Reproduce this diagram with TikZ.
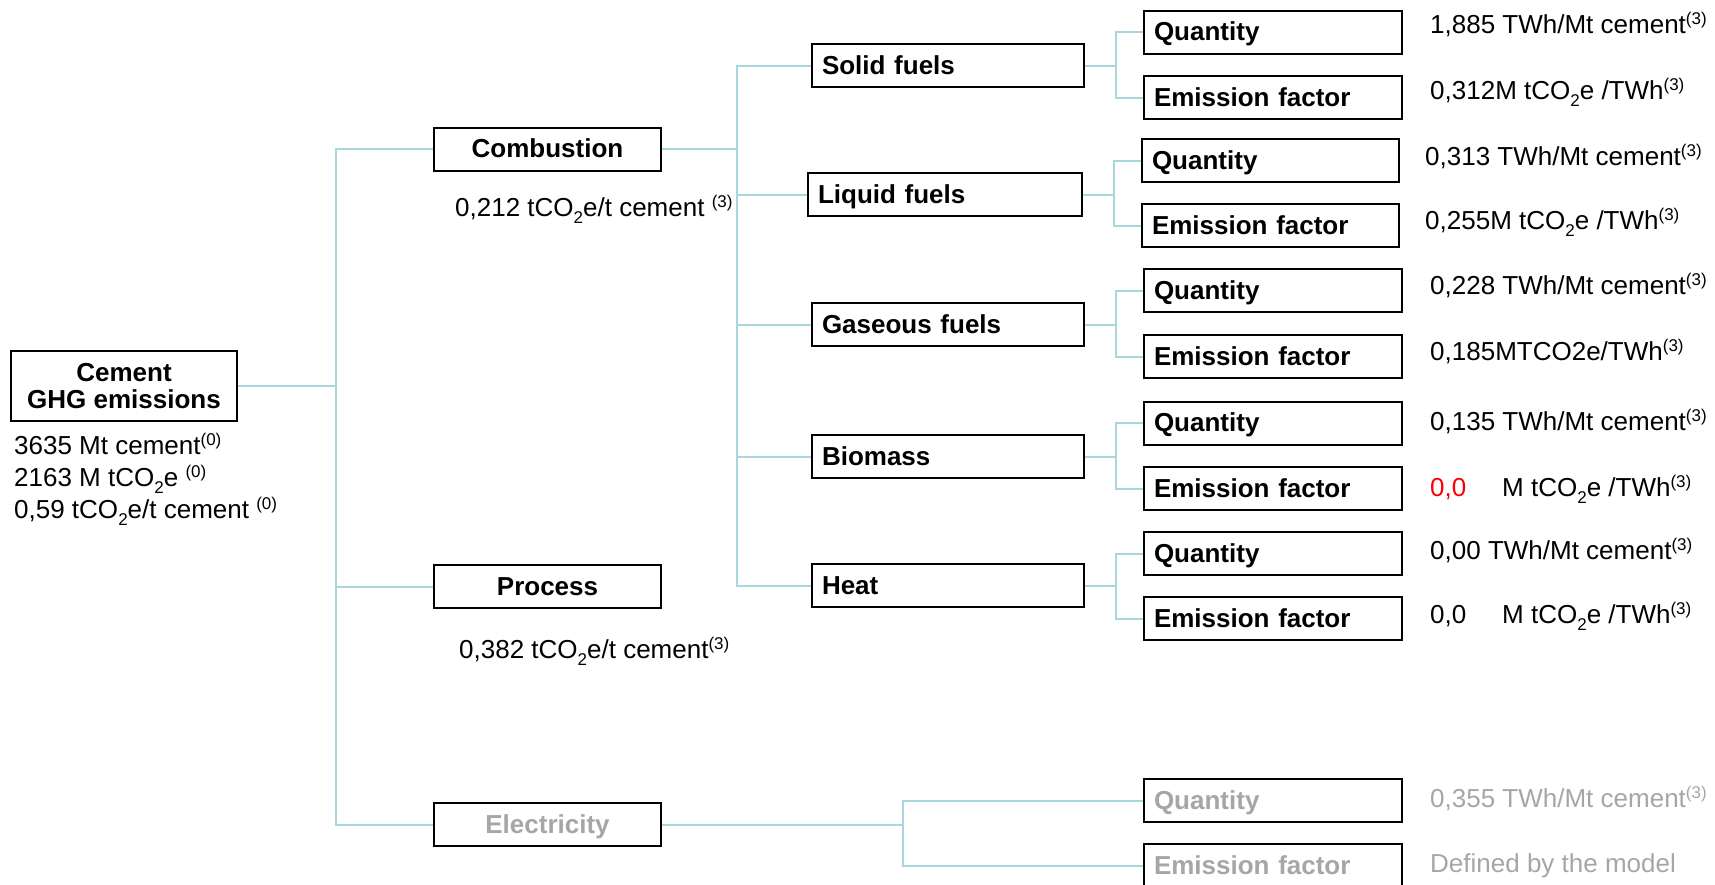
\documentclass[tikz,border=0pt]{standalone}
\usepackage{fontspec}
\setmainfont{Liberation Sans}
\definecolor{linec}{RGB}{168,214,220}
\definecolor{greyt}{RGB}{166,166,166}
\newcommand\mysup[1]{\raisebox{9pt}{\fontsize{17}{17}\selectfont #1}}
\newcommand\mysub[1]{\raisebox{-7pt}{\fontsize{17}{17}\selectfont #1}}
\begin{document}
\begin{tikzpicture}[x=1pt,y=-1pt,
  box/.style={draw=black,line width=2pt,font=\fontsize{26}{27}\selectfont\bfseries,inner sep=0pt,text height=17pt,text depth=0pt},
  cbox/.style={box,minimum width=227pt,minimum height=43pt},
  lbox/.style={box,inner xsep=10pt,text width=#1-20pt,align=left,minimum height=43pt},
  val/.style={anchor=base west,inner sep=0pt,font=\fontsize{26}{28}\selectfont},
  conn/.style={draw=linec,line width=2pt}]
\useasboundingbox (0,0) rectangle (1715,884);

% level 0
\node[draw=black,line width=2pt,font=\fontsize{26}{27}\selectfont\bfseries,align=center,
  minimum width=226pt,minimum height=70pt,inner sep=0pt] (cement) at (124,386) {Cement\\GHG emissions};
\node[val] (c1) at (14,454) {3635 Mt cement\mysup{(0)}};
\node[val] (c2) at (14,486) {2163 M tCO\mysub{2}e \mysup{(0)}};
\node[val] (c3) at (14,518) {0,59 tCO\mysub{2}e/t cement \mysup{(0)}};

% level 1
\node[cbox] (comb) at (547.5,149) {Combustion};
\node[cbox] (proc) at (547.5,586.5) {Process};
\node[cbox,text=greyt] (elec) at (547.5,824.5) {Electricity};
\node[val] (combv) at (455,216) {0,212 tCO\mysub{2}e/t cement \mysup{(3)}};
\node[val] (procv) at (459,658) {0,382 tCO\mysub{2}e/t cement\mysup{(3)}};

% level 2
\node[lbox=272pt] (solid) at (948,65.5) {Solid fuels};
\node[lbox=274pt] (liquid) at (945,194.5) {Liquid fuels};
\node[lbox=272pt] (gas) at (948,324.5) {Gaseous fuels};
\node[lbox=272pt] (bio) at (948,456.5) {Biomass};
\node[lbox=272pt] (heat) at (948,585.5) {Heat};

% level 3
\node[lbox=258pt] (qsolid) at (1273,32) {Quantity};
\node[lbox=258pt] (esolid) at (1273,97.5) {Emission factor};
\node[lbox=257pt] (qliquid) at (1270.5,160.5) {Quantity};
\node[lbox=257pt] (eliquid) at (1270.5,225.5) {Emission factor};
\node[lbox=258pt] (qgas) at (1273,290.5) {Quantity};
\node[lbox=258pt] (egas) at (1273,356.5) {Emission factor};
\node[lbox=258pt] (qbio) at (1273,423) {Quantity};
\node[lbox=258pt] (ebio) at (1273,488.5) {Emission factor};
\node[lbox=258pt] (qheat) at (1273,553.5) {Quantity};
\node[lbox=258pt] (eheat) at (1273,618.5) {Emission factor};
\node[lbox=258pt,text=greyt] (qelec) at (1273,800.5) {Quantity};
\node[lbox=258pt,text=greyt] (eelec) at (1273,865.5) {Emission factor};

% values
\node[val] (vqsolid) at (1430,33) {1,885 TWh/Mt cement\mysup{(3)}};
\node[val] (vesolid) at (1430,99) {0,312M tCO\mysub{2}e /TWh\mysup{(3)}};
\node[val] (vqliquid) at (1425,165) {0,313 TWh/Mt cement\mysup{(3)}};
\node[val] (veliquid) at (1425,229) {0,255M tCO\mysub{2}e /TWh\mysup{(3)}};
\node[val] (vqgas) at (1430,294) {0,228 TWh/Mt cement\mysup{(3)}};
\node[val] (vegas) at (1430,360) {0,185MTCO2e/TWh\mysup{(3)}};
\node[val] (vqbio) at (1430,430) {0,135 TWh/Mt cement\mysup{(3)}};
\node[val,text=red] (vebio) at (1430,496) {0,0};
\node[val] (vebio2) at (1502,496) {M tCO\mysub{2}e /TWh\mysup{(3)}};
\node[val] (vqheat) at (1430,559) {0,00 TWh/Mt cement\mysup{(3)}};
\node[val] (veheat) at (1430,623) {0,0};
\node[val] (veheat2) at (1502,623) {M tCO\mysub{2}e /TWh\mysup{(3)}};
\node[val,text=greyt] (vqelec) at (1430,807) {0,355 TWh/Mt cement\mysup{(3)}};
\node[val,text=greyt] (veelec) at (1430,872) {Defined by the model};

% connectors
\coordinate (j0) at (336,386);
\draw[conn] (cement.east) -- (j0);
\foreach \n in {comb,proc,elec} \draw[conn] (j0) |- (\n.west);
\coordinate (j1) at (737,149);
\draw[conn] (comb.east) -- (j1);
\foreach \n in {solid,liquid,gas,bio,heat} \draw[conn] (j1) |- (\n.west);
\foreach \n in {solid,liquid,gas,bio,heat} {
  \draw[conn] (\n.east) -- ++(31,0) coordinate (k\n);
  \draw[conn] (k\n) |- (q\n.west);
  \draw[conn] (k\n) |- (e\n.west);
}
\draw[conn] (elec.east) -- ++(241,0) coordinate (kelec);
\draw[conn] (kelec) |- (qelec.west);
\draw[conn] (kelec) |- (eelec.west);
\end{tikzpicture}
\end{document}
